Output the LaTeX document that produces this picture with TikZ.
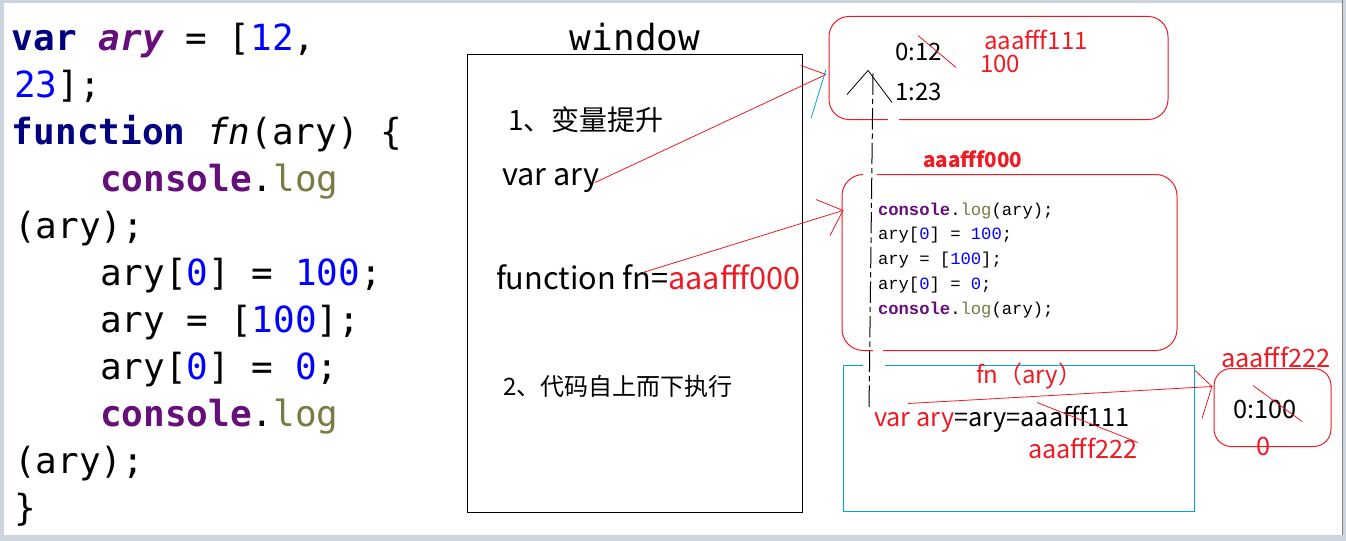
\documentclass[tikz,border=0pt]{standalone}
\usepackage{fontspec}
\newfontfamily\codefont{DejaVu Sans Mono}
\newfontfamily\cjk{Noto Sans CJK SC}
\newfontfamily\smono{Liberation Mono}
\usetikzlibrary{fit}
\definecolor{navyc}{RGB}{0,0,128}
\definecolor{purpc}{RGB}{102,14,122}
\definecolor{bluec}{RGB}{0,0,255}
\definecolor{olivec}{RGB}{122,122,67}
\definecolor{redc}{RGB}{237,28,36}
\definecolor{cyanc}{RGB}{0,160,230}
\definecolor{framec}{RGB}{205,212,224}
\newcommand{\fs}[1]{\fontsize{#1}{#1}\selectfont}
\begin{document}
\begin{tikzpicture}[x=0.75pt,y=-0.75pt,
  txt/.style={anchor=base west,inner sep=0pt,outer sep=0pt},
  code/.style={txt,font=\codefont\fs{27}},
  sans/.style={txt,font=\cjk},
  bcode/.style={txt,font=\smono\fs{12.9}},
  redline/.style={draw=redc,line width=0.6pt},
  rbox/.style={draw=redc,line width=0.75pt,inner sep=0pt},
  gap/.style={fill=white,draw=none}]
% background
\fill[framec] (0,0) rectangle (1346,540);
\fill[white] (4,3) rectangle (1342,534);
\draw[gray,line width=0.75pt] (1342,0) -- (1342,534);
\useasboundingbox (0,0) rectangle (1346,540);

% left code
\node[code] (c1) at (12,50) {\textcolor{navyc}{\bfseries var} \textcolor{purpc}{\itshape\bfseries ary} = [\textcolor{bluec}{12},};
\node[code] (c2) at (14,97) {\textcolor{bluec}{23}];};
\node[code] (c3) at (12,144) {\textcolor{navyc}{\bfseries function} {\itshape fn}(ary) \{};
\node[code] (c4) at (100,191) {\textcolor{purpc}{\bfseries console}.\textcolor{olivec}{log}};
\node[code] (c5) at (14,238) {(ary);};
\node[code] (c6) at (100,285) {ary[\textcolor{bluec}{0}] = \textcolor{bluec}{100};};
\node[code] (c7) at (100,332) {ary = [\textcolor{bluec}{100}];};
\node[code] (c8) at (100,379) {ary[\textcolor{bluec}{0}] = \textcolor{bluec}{0};};
\node[code] (c9) at (100,426) {\textcolor{purpc}{\bfseries console}.\textcolor{olivec}{log}};
\node[code] (c10) at (14,473) {(ary);};
\node[code] (c11) at (14,520) {\}};

% window
\node[anchor=base,inner sep=0pt,font=\codefont\fs{27}] (wlabel) at (635,50) {window};
\node[fit={(467,54) (802,512)},inner sep=0pt,draw=black,line width=0.75pt] (win) {};
\node[sans,font=\cjk\fs{21}] (t1) at (508,130) {1、变量提升};
\node[sans,font=\cjk\fs{23}] (tvar) at (502,185) {var ary};
\node[sans,font=\cjk\fs{23}] (tfn) at (496,289) {function fn=\textcolor{redc}{aaafff000}};
\node[sans,font=\cjk\fs{18}] (t2) at (503,395) {2、代码自上而下执行};

% box 1 (aaafff111)
\node[rbox,rounded corners=15pt,fit={(829,16) (1168,119)}] (box1) {};
\node[sans,font=\cjk\fs{18}] (b1a) at (895,60) {0:12};
\node[sans,font=\cjk\fs{18}] (b1b) at (895,100) {1:23};
\node[sans,font=\cjk\fs{18},text=redc] (b1c) at (984,49) {aaafff111};
\node[sans,font=\cjk\fs{18},text=redc] (b1d) at (980,72) {100};

% box 2 (aaafff000)
\node[sans,font=\cjk\bfseries\fs{15.5},text=redc] (b2l) at (923,167) {aaafff000};
\node[rbox,rounded corners=16pt,fit={(842,174) (1177,350)}] (box2) {};
\node[bcode] (d1) at (878,215) {\textcolor{purpc}{\bfseries console}.\textcolor{olivec}{log}(ary);};
\node[bcode] (d2) at (878,239) {ary[\textcolor{bluec}{0}] = \textcolor{bluec}{100};};
\node[bcode] (d3) at (878,264) {ary = [\textcolor{bluec}{100}];};
\node[bcode] (d4) at (878,289) {ary[\textcolor{bluec}{0}] = \textcolor{bluec}{0};};
\node[bcode] (d5) at (878,314) {\textcolor{purpc}{\bfseries console}.\textcolor{olivec}{log}(ary);};

% box 3 (fn scope)
\node[fit={(843,365) (1194,511)},inner sep=0pt,draw=cyanc,line width=0.75pt] (box3) {};
\node[sans,font=\cjk\fs{18},text=redc] (b3a) at (976,383) {fn（ary）};
\node[sans,font=\cjk\fs{19}] (b3b) at (874,426) {\textcolor{redc}{var ary}=ary=aaafff111};
\node[sans,font=\cjk\fs{19},text=redc] (b3c) at (1028,458) {aaafff222};

% box 4 (aaafff222)
\node[sans,font=\cjk\fs{19},text=redc] (b4l) at (1221,367) {aaafff222};
\node[rbox,rounded corners=13pt,fit={(1214,368) (1331,446)}] (box4) {};
\node[sans,font=\cjk\fs{19}] (b4a) at (1233,418) {0:100};
\node[sans,font=\cjk\fs{19},text=redc] (b4b) at (1256,455) {0};

% gaps where the scope line crosses
\fill[gap] (888,117) rectangle (899,121);
\fill[gap] (863,172) rectangle (877,176);
\fill[gap] (873,348) rectangle (883,352);
\fill[gap] (863,363) rectangle (885,367);

% scope chain line and caret
\coordinate (s0) at (873,73);
\coordinate (s1) at (869,410);
\draw[black,line width=0.75pt,dash pattern=on 16pt off 3pt on 4pt off 3pt] (s0) -- (s1);
\coordinate (v1) at (847,94);
\coordinate (v2) at (868,70);
\coordinate (v3) at (892,102);
\draw[black,line width=0.6pt] (v1) -- (v2) -- (v3);

% arrow 1: var ary -> box1
\coordinate (a1s) at (595,182);
\coordinate (a1e) at (826,74);
\coordinate (a1h) at (801,65);
\coordinate (a1c1) at (826,69);
\coordinate (a1c2) at (811,118);
\draw[redline] (a1s) -- (a1e);
\draw[redline] (a1h) -- (a1e);
\draw[draw=cyanc,line width=0.6pt] (a1c1) -- (a1c2);

% arrow 2: fn -> box2
\coordinate (a2s) at (643,272);
\coordinate (a2e) at (843,210);
\coordinate (a2h1) at (816,199);
\coordinate (a2h2) at (830,235);
\draw[redline] (a2s) -- (a2e);
\draw[redline] (a2h1) -- (a2e) -- (a2h2);

% arrow 3: var ary -> box4
\coordinate (a3s) at (908,403);
\coordinate (a3e) at (1212,386);
\coordinate (a3h1) at (1195,370);
\coordinate (a3h2) at (1202,418);
\draw[redline] (a3s) -- (a3e);
\draw[redline] (a3h1) -- (a3e) -- (a3h2);

% strike-through lines
\coordinate (k1a) at (918,35);
\coordinate (k1b) at (956,67);
\draw[redline] (k1a) -- (k1b);
\coordinate (k2a) at (1037,402);
\coordinate (k2b) at (1138,442);
\draw[redline] (k2a) -- (k2b);
\coordinate (k3a) at (1253,385);
\coordinate (k3b) at (1302,421);
\draw[redline] (k3a) -- (k3b);
\end{tikzpicture}
\end{document}
